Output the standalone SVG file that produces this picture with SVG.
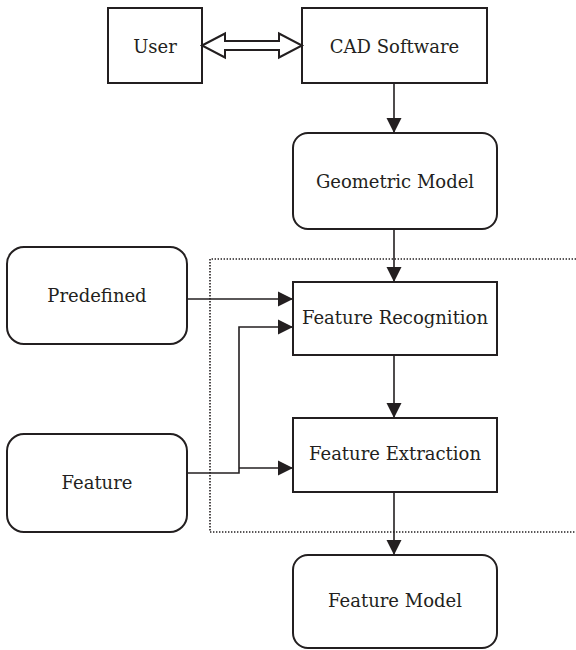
<svg xmlns="http://www.w3.org/2000/svg" width="576" height="650" viewBox="0 0 576 650">
<style>
.box{fill:#fff;stroke:#231f20;stroke-width:2}
.lbl{font-family:'DejaVu Serif',serif;font-size:18px;fill:#231f20;text-anchor:middle}
.con{fill:none;stroke:#231f20;stroke-width:1.6}
.dot{fill:none;stroke:#231f20;stroke-width:1.6;stroke-dasharray:1.4 1.6}
</style>
<defs>
<marker id="ah" markerUnits="userSpaceOnUse" markerWidth="18" markerHeight="18" viewBox="0 0 18 18" refX="16" refY="9" orient="auto">
<path d="M1,1.5 L16,9 L1,16.5 Z" fill="#231f20"/>
</marker>
</defs>
<path class="dot" d="M576,259 H210 V532 H576"/>
<g id="user"><rect class="box" x="108" y="8" width="94" height="75"/><text class="lbl" x="155" y="53">User</text></g>
<g id="cad"><rect class="box" x="302" y="8" width="185" height="75"/><text class="lbl" x="394.5" y="53">CAD Software</text></g>
<g id="geo"><rect class="box" x="293" y="133" width="204" height="96" rx="15"/><text class="lbl" x="395" y="188">Geometric Model</text></g>
<g id="predef"><rect class="box" x="7" y="247" width="180" height="97" rx="17"/><text class="lbl" x="97" y="302">Predefined</text></g>
<g id="feature"><rect class="box" x="7" y="434" width="180" height="98" rx="17"/><text class="lbl" x="97" y="489">Feature</text></g>
<g id="recog"><rect class="box" x="293" y="282" width="204" height="73"/><text class="lbl" x="395" y="324">Feature Recognition</text></g>
<g id="extract"><rect class="box" x="293" y="418" width="204" height="74"/><text class="lbl" x="395" y="460">Feature Extraction</text></g>
<g id="fmodel"><rect class="box" x="293" y="555" width="204" height="93" rx="15"/><text class="lbl" x="395" y="607">Feature Model</text></g>
<g id="connectors">
<polygon points="202,45.5 225,33.5 225,41 279,41 279,33.5 302,45.5 279,57.5 279,50 225,50 225,57.5" fill="#fff" stroke="#231f20" stroke-width="2" stroke-linejoin="miter"/>
<path class="con" d="M394,83 V133" marker-end="url(#ah)"/>
<path class="con" d="M394,229 V282" marker-end="url(#ah)"/>
<path class="con" d="M394,355 V418" marker-end="url(#ah)"/>
<path class="con" d="M394,492 V555" marker-end="url(#ah)"/>
<path class="con" d="M187,299 H293" marker-end="url(#ah)"/>
<path class="con" d="M187,473 H239 V327 H293" marker-end="url(#ah)"/>
<path class="con" d="M239,468 H293" marker-end="url(#ah)"/>
</g>
</svg>
